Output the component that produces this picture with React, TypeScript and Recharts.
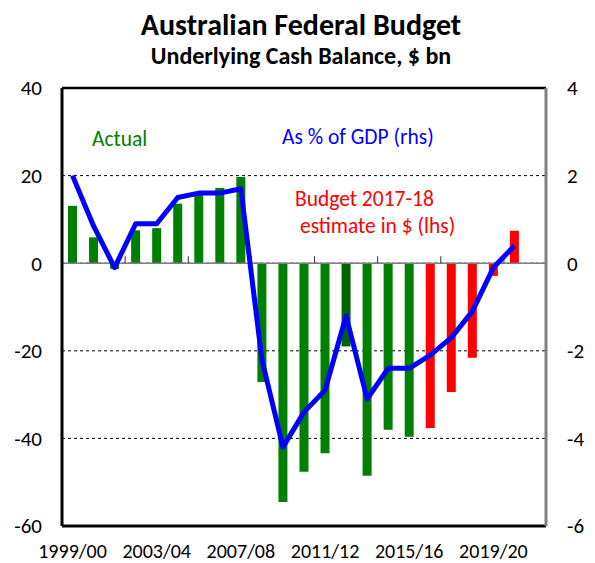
import React from "react";
import { Bar, CartesianGrid, Cell, ComposedChart, Line, ReferenceLine, XAxis, YAxis } from "recharts";

const FONT = "Carlito, Lato, sans-serif";

// financial years, last one left empty as in the source chart
const YEARS = [
  "1999/00", "2000/01", "2001/02", "2002/03", "2003/04", "2004/05", "2005/06", "2006/07",
  "2007/08", "2008/09", "2009/10", "2010/11", "2011/12", "2012/13", "2013/14", "2014/15",
  "2015/16", "2016/17", "2017/18", "2018/19", "2019/20", "2020/21", "2021/22",
];

// $ bn, actual outcomes 1999/00 - 2015/16
const ACTUAL_BN = [
  13.1, 5.9, -1.3, 7.5, 8.0, 13.6, 15.8, 17.2, 19.7, -27.1, -54.5, -47.6, -43.4, -19.0,
  -48.5, -38.0, -39.6,
];

// $ bn, Budget 2017-18 estimates 2016/17 - 2020/21
const BUDGET_BN = [-37.6, -29.4, -21.6, -2.9, 7.4];

// % of GDP (rhs)
const PCT_GDP = [
  2.0, 0.85, -0.1, 0.9, 0.9, 1.5, 1.6, 1.6, 1.7, -2.2, -4.2, -3.4, -2.9, -1.2, -3.1, -2.4,
  -2.4, -2.1, -1.7, -1.1, -0.1, 0.4,
];

const LEFT_TICKS = [-60, -40, -20, 0, 20, 40];
const RIGHT_TICKS = [-6, -4, -2, 0, 2, 4];

const HIGHLIGHT_YEAR = "2012/13";

const data = YEARS.map((year, i) => ({
  year,
  actual: i < ACTUAL_BN.length ? ACTUAL_BN[i] : null,
  budget: i >= ACTUAL_BN.length && i - ACTUAL_BN.length < BUDGET_BN.length ? BUDGET_BN[i - ACTUAL_BN.length] : null,
  pct: i < PCT_GDP.length ? PCT_GDP[i] : null,
}));

// zero line with small upward ticks every third year, like the Excel original
function ZeroLine(props: any) {
  const { x1, y1, x2, y2 } = props;
  const step = (x2 - x1) / YEARS.length;
  const ticks = [];
  for (let k = 3; k < YEARS.length; k += 3) {
    const x = x1 + step * k;
    ticks.push(<line key={k} x1={x} x2={x} y1={y1} y2={y1 - 7} stroke="#333" strokeWidth={1} />);
  }
  return (
    <g>
      <line x1={x1} y1={y1} x2={x2} y2={y2} stroke="#7f7f7f" strokeWidth={1.5} />
      {ticks}
    </g>
  );
}

const tickStyle = { fill: "#000", fontSize: 21, fontFamily: FONT };

export default function App() {
  return (
    <div style={{ position: "absolute", left: 0, top: 0, width: 595, height: 563, background: "#fff" }}>
      <ComposedChart width={595} height={563} data={data} margin={{ top: 88, right: 0, bottom: 0, left: 0 }}>
        <CartesianGrid vertical={false} stroke="#000" strokeDasharray="3 3" strokeWidth={1} yAxisId="left" />
        <XAxis
          dataKey="year"
          interval={3}
          tickLine={false}
          axisLine={{ stroke: "#000", strokeWidth: 3 }}
          tick={{ ...tickStyle, fontSize: 20 }}
          tickSize={6}
          tickMargin={12}
          height={37}
        />
        <YAxis
          yAxisId="left"
          domain={[-60, 40]}
          ticks={LEFT_TICKS}
          width={62}
          tickLine={false}
          tickSize={6}
          tickMargin={14}
          axisLine={{ stroke: "#000", strokeWidth: 3 }}
          tick={tickStyle}
        />
        <YAxis
          yAxisId="right"
          orientation="right"
          domain={[-6, 4]}
          ticks={RIGHT_TICKS}
          width={49}
          tickLine={false}
          tickSize={6}
          tickMargin={15}
          axisLine={{ stroke: "#808080", strokeWidth: 3 }}
          tick={{ ...tickStyle, textAnchor: "start" }}
        />
        <ReferenceLine yAxisId="left" y={40} stroke="#000" strokeWidth={2.5} />
        <ReferenceLine yAxisId="left" y={0} shape={ZeroLine} />
        <Bar yAxisId="left" dataKey="actual" stackId="bn" fill="#008000" barSize={9} isAnimationActive={false}>
          {data.map((d) => (
            <Cell key={d.year} fill={d.year === HIGHLIGHT_YEAR ? "#006400" : "#008000"} />
          ))}
        </Bar>
        <Bar yAxisId="left" dataKey="budget" stackId="bn" fill="#ff0000" barSize={9} isAnimationActive={false} />
        <Line
          yAxisId="right"
          dataKey="pct"
          type="linear"
          stroke="#0000ff"
          strokeWidth={5}
          strokeLinejoin="round"
          dot={false}
          activeDot={false}
          connectNulls={false}
          isAnimationActive={false}
        />
      </ComposedChart>
      <svg
        width={595}
        height={563}
        style={{ position: "absolute", left: 0, top: 0, pointerEvents: "none" }}
        fontFamily={FONT}
      >
        <text x={301} y={35} textAnchor="middle" fontSize={30} fontWeight="bold" fill="#000">
          Australian Federal Budget
        </text>
        <text x={301} y={64} textAnchor="middle" fontSize={24} fontWeight="bold" fill="#000">
          Underlying Cash Balance, $ bn
        </text>
        <text x={92} y={146} fontSize={21.5} fill="#008000">Actual</text>
        <text x={282} y={144} fontSize={21.5} fill="#0000ff">As % of GDP (rhs)</text>
        <text x={295} y={206} fontSize={21.5} fill="#ff0000">Budget 2017-18</text>
        <text x={300} y={233} fontSize={21.5} fill="#ff0000">estimate in $ (lhs)</text>
      </svg>
    </div>
  );
}
